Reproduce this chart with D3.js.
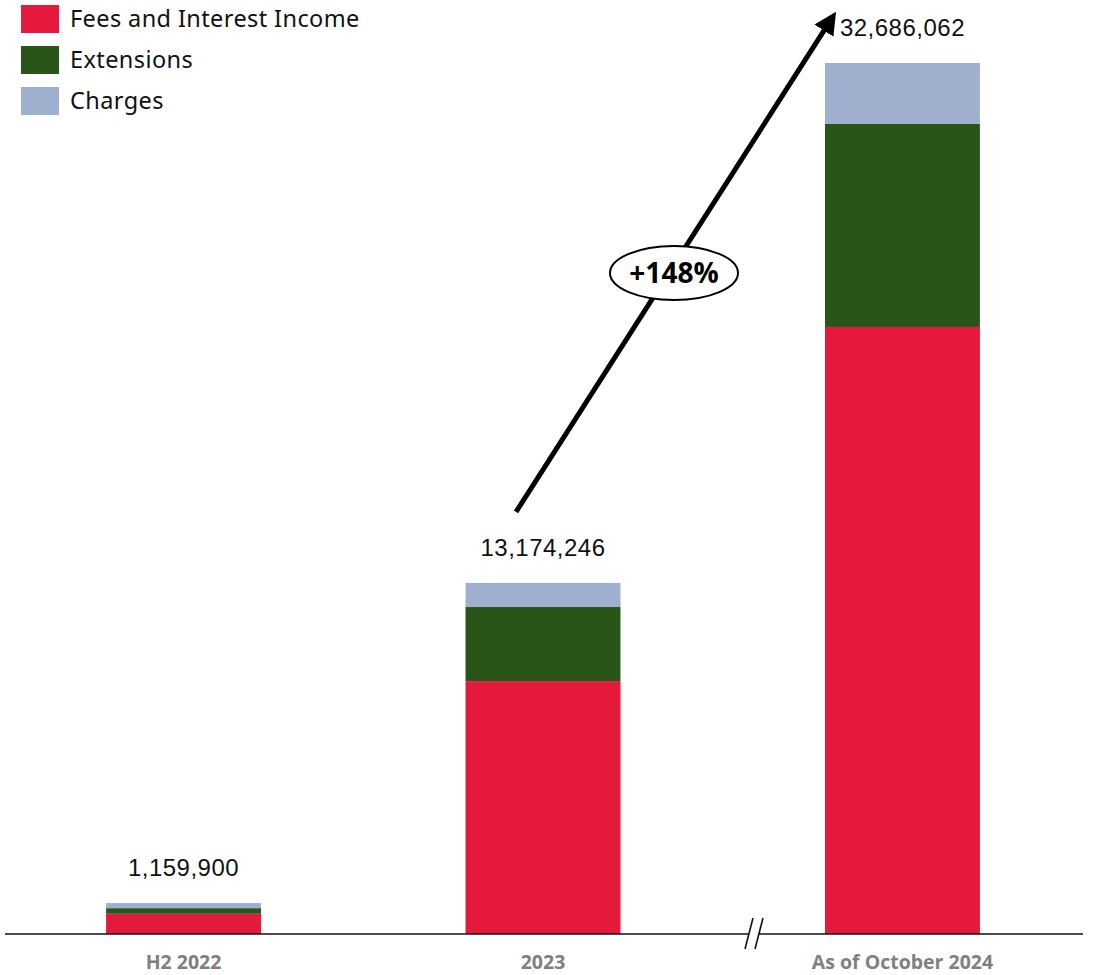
<!DOCTYPE html>
<html>
<head>
<meta charset="utf-8">
<script src="https://cdn.jsdelivr.net/npm/d3@7"></script>
<style>
  body { margin: 0; background: #fff; }
  svg { display: block; }
</style>
</head>
<body>
<svg id="chart"></svg>
<script>
const categories = ["H2 2022", "2023", "As of October 2024"];
const seriesNames = ["Fees and Interest Income", "Extensions", "Charges"];
const feesIncome = [760000, 9490000, 22780000];
const extensions = [210000, 2780000, 7620000];
const charges = [189900, 904246, 2286062];
const colors = ["#E4193C", "#2A5519", "#9EB0CE"];

const width = 1094, height = 975;
const baseY = 934;

const rows = categories.map((c, i) => ({
    cat: c,
    "Fees and Interest Income": feesIncome[i],
    "Extensions": extensions[i],
    "Charges": charges[i]
}));
const totals = rows.map((r, i) => feesIncome[i] + extensions[i] + charges[i]);

const svg = d3.select("#chart")
    .attr("width", width)
    .attr("height", height);

const xscale = d3.scaleBand()
    .domain(categories)
    .range([4, 1082])
    .paddingInner(0.569)
    .paddingOuter(0.284);

const yscale = d3.scaleLinear()
    .domain([0, 32686062])
    .range([baseY, 63]);

const stacked = d3.stack().keys(seriesNames)(rows);

svg.selectAll(".layer")
    .data(stacked)
    .enter().append("g")
    .attr("class", "layer")
    .attr("fill", (d, i) => colors[i])
    .selectAll("rect")
    .data(d => d)
    .enter().append("rect")
    .attr("x", d => xscale(d.data.cat))
    .attr("y", d => yscale(d[1]))
    .attr("width", xscale.bandwidth())
    .attr("height", d => yscale(d[0]) - yscale(d[1]));

// total labels
svg.selectAll(".total")
    .data(categories)
    .enter().append("text")
    .attr("x", d => xscale(d) + xscale.bandwidth() / 2)
    .attr("y", (d, i) => yscale(totals[i]) - 27)
    .attr("text-anchor", "middle")
    .style("font-family", "'Liberation Sans', Arial, sans-serif")
    .style("font-size", "24px")
    .style("letter-spacing", "0.5px")
    .attr("fill", "#111")
    .text((d, i) => d3.format(",")(totals[i]));

// x axis line
svg.append("line")
    .attr("x1", 5).attr("x2", 1083)
    .attr("y1", baseY).attr("y2", baseY)
    .attr("stroke", "#111").attr("stroke-width", 1.6);

// axis break
const brk = 754;
svg.append("rect")
    .attr("x", brk - 5).attr("y", baseY - 3)
    .attr("width", 10).attr("height", 6)
    .attr("fill", "#fff");
[-5, 5].forEach(o => {
    svg.append("line")
        .attr("x1", brk + o - 4).attr("y1", baseY + 15)
        .attr("x2", brk + o + 4).attr("y2", baseY - 16)
        .attr("stroke", "#111").attr("stroke-width", 1.6);
});

// category labels
svg.selectAll(".xlab")
    .data(categories)
    .enter().append("text")
    .attr("x", d => xscale(d) + xscale.bandwidth() / 2)
    .attr("y", 969)
    .attr("text-anchor", "middle")
    .style("font-family", "'Open Sans', sans-serif")
    .style("font-weight", "bold")
    .style("font-size", "19.5px")
    .attr("fill", "#808080")
    .text(d => d);

// legend
const legend = svg.selectAll(".legend")
    .data(seriesNames)
    .enter().append("g")
    .attr("transform", (d, i) => `translate(21,${5 + i * 41})`);
legend.append("rect")
    .attr("width", 38).attr("height", 28)
    .attr("fill", (d, i) => colors[i]);
legend.append("text")
    .attr("x", 49).attr("y", 22)
    .style("font-family", "'Noto Sans', sans-serif")
    .style("font-size", "23.5px")
    .style("letter-spacing", "0.4px")
    .attr("fill", "#111")
    .text(d => d);

// growth arrow
const x0 = xscale(categories[1]) + xscale.bandwidth() / 2 - 27;
const y0 = yscale(totals[1]) - 71;
const x1 = xscale(categories[2]) + 7;
const y1 = yscale(totals[2]) - 45;
svg.append("defs").append("marker")
    .attr("id", "head")
    .attr("viewBox", "0 0 10 10")
    .attr("refX", 2).attr("refY", 5)
    .attr("markerWidth", 4.5).attr("markerHeight", 4.5)
    .attr("orient", "auto")
    .append("path").attr("d", "M0,0 L10,5 L0,10 z").attr("fill", "#000");
svg.append("line")
    .attr("x1", x0).attr("y1", y0)
    .attr("x2", x1 - 0.5 * (x1 - x0) / 28).attr("y2", y1 - 0.5 * (y1 - y0) / 28)
    .attr("stroke", "#000").attr("stroke-width", 5)
    .attr("marker-end", "url(#head)");

const growth = totals[2] / totals[1] - 1;
const cx = 674, cy = 273;
svg.append("ellipse")
    .attr("cx", cx).attr("cy", cy)
    .attr("rx", 64).attr("ry", 27)
    .attr("fill", "#fff").attr("stroke", "#000").attr("stroke-width", 2);
svg.append("text")
    .attr("x", cx).attr("y", cy + 10)
    .attr("text-anchor", "middle")
    .style("font-family", "'Open Sans', sans-serif")
    .style("font-weight", "bold")
    .style("font-size", "28px")
    .attr("fill", "#000")
    .text("+" + Math.round(growth * 100) + "%");
</script>
</body>
</html>
